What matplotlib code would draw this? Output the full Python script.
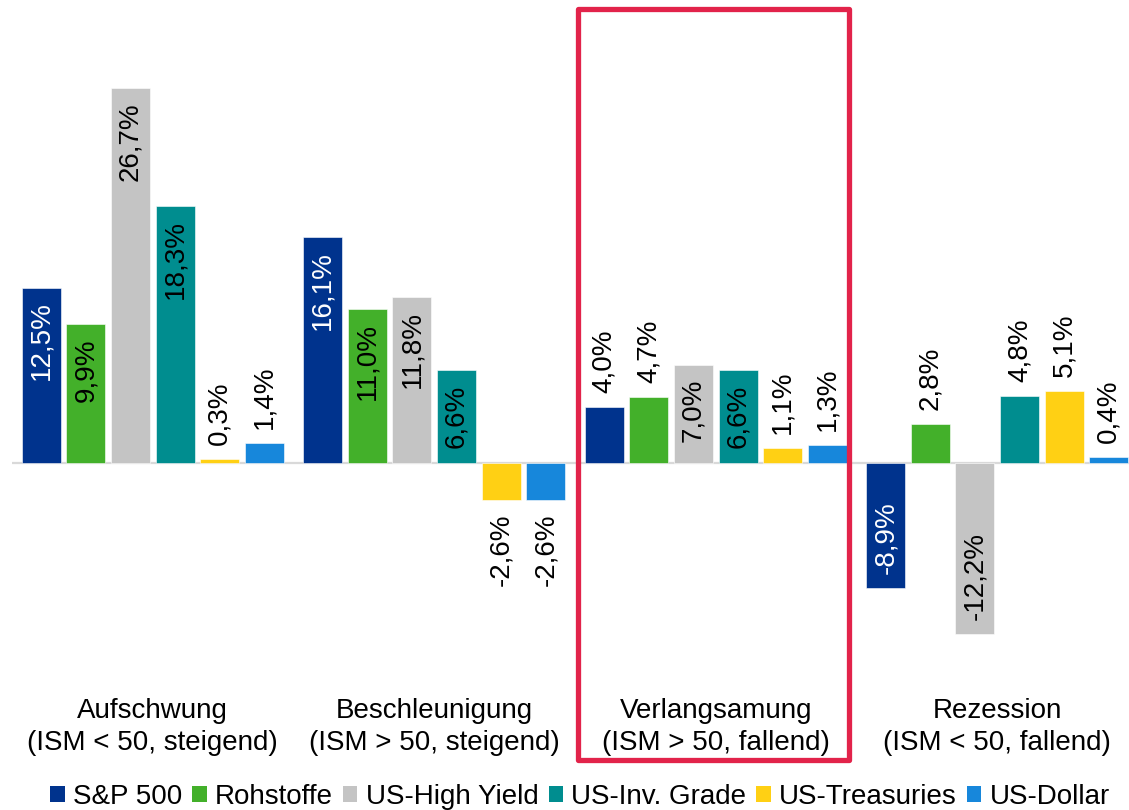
import matplotlib.pyplot as plt
import numpy as np
from matplotlib.patches import Rectangle, Patch

plt.rcParams['font.family'] = ['Liberation Sans', 'DejaVu Sans']

# ISM cycle phases and average returns per asset class (in %)
phases = ["Aufschwung", "Beschleunigung", "Verlangsamung", "Rezession"]
phase_notes = ["(ISM < 50, steigend)", "(ISM > 50, steigend)",
               "(ISM > 50, fallend)", "(ISM < 50, fallend)"]
series = ["S&P 500", "Rohstoffe", "US-High Yield", "US-Inv. Grade",
          "US-Treasuries", "US-Dollar"]
sp500 = [12.5, 16.1, 4.0, -8.9]
rohstoffe = [9.9, 11.0, 4.7, 2.8]
high_yield = [26.7, 11.8, 7.0, -12.2]
inv_grade = [18.3, 6.6, 6.6, 4.8]
treasuries = [0.3, -2.6, 1.1, 5.1]
dollar = [1.4, -2.6, 1.3, 0.4]
values = [sp500, rohstoffe, high_yield, inv_grade, treasuries, dollar]
colors = ['#00338D', '#43B02A', '#C4C4C4', '#008D8F', '#FFD014', '#1787DB']

FS = 20
W, H = 1129, 810
fig = plt.figure(figsize=(W / 100, H / 100), dpi=100)

# one category = 281.5 px, zero line at y = 463 px, 14.04 px per percent
cat_px = 281.5
ppu = 14.04
ax = fig.add_axes([12 / W, 0, 1 - 12 / W, 1])
ax.set_xlim(-0.5, -0.5 + (W - 12) / cat_px)
ax.set_ylim(-(H - 463) / ppu, 463 / ppu)
ax.axis('off')

ax.axhline(0, color='#D9D9D9', lw=1.6, zorder=1)

x = np.arange(len(phases))
step = 44.6 / cat_px
width = 39 / cat_px
pad = 14

for i, (name, vals, col) in enumerate(zip(series, values, colors)):
    xs = x + (i - 2.5) * step
    ax.bar(xs, vals, width, color=col, edgecolor='white', linewidth=0.4,
           zorder=2, label=name)
    for xi, v in zip(xs, vals):
        txt = f"{v:.1f}%".replace('.', ',')
        inside = abs(v) >= 6
        if inside:
            off = -pad if v > 0 else pad
            va = 'top' if v > 0 else 'bottom'
            tc = 'white' if name == "S&P 500" else 'black'
        else:
            off = pad if v > 0 else -pad
            va = 'bottom' if v > 0 else 'top'
            tc = 'black'
        ax.annotate(txt, (xi, v), xytext=(0, off), textcoords='offset pixels',
                    rotation=90, ha='center', va=va, fontsize=FS, color=tc,
                    zorder=3)

# category labels below the bars
for xi, p, n in zip(x, phases, phase_notes):
    ax.text(xi, 1 - 718 / H, p, transform=ax.get_xaxis_transform(),
            ha='center', va='baseline', fontsize=FS)
    ax.text(xi, 1 - 750 / H, n, transform=ax.get_xaxis_transform(),
            ha='center', va='baseline', fontsize=FS)

# highlight for the slowdown phase
fig.patches.append(Rectangle((577.5 / W, 1 - 760 / H), (849 - 577.5) / W,
                             (760 - 8.5) / H, transform=fig.transFigure,
                             fill=False, edgecolor='#E2234A', lw=3.8,
                             joinstyle='round', zorder=5))

handles = [Patch(facecolor=c, edgecolor='none') for c in colors]
fig.legend(handles, series, loc='lower center', ncol=6,
           bbox_to_anchor=(580 / W, 0.0), frameon=False, fontsize=FS,
           handlelength=0.52, handleheight=0.52, handletextpad=0.3,
           columnspacing=0.36, borderaxespad=0, borderpad=0)

fig.savefig('out.png', dpi=100)
